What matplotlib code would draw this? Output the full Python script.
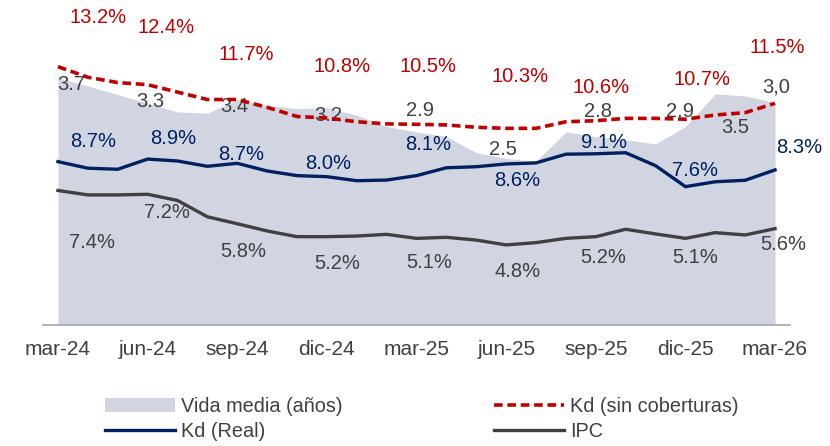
import matplotlib
matplotlib.use("Agg")
import matplotlib.pyplot as plt
from matplotlib.lines import Line2D
from matplotlib.patches import Patch
import numpy as np

months = ["mar-24", "abr-24", "may-24", "jun-24", "jul-24", "ago-24", "sep-24", "oct-24", "nov-24",
          "dic-24", "ene-25", "feb-25", "mar-25", "abr-25", "may-25", "jun-25", "jul-25", "ago-25",
          "sep-25", "oct-25", "nov-25", "dic-25", "ene-26", "feb-26", "mar-26"]
tick_labels = ["mar-24", "jun-24", "sep-24", "dic-24", "mar-25", "jun-25", "sep-25", "dic-25", "mar-26"]

vida_media = [3.71, 3.59, 3.46, 3.33, 3.20, 3.18, 3.38, 3.30, 3.25, 3.26, 3.15, 2.98, 2.90,
              2.83, 2.59, 2.50, 2.46, 2.90, 2.83, 2.78, 2.72, 2.98, 3.47, 3.44, 3.34]
kd_sin = [13.20, 12.70, 12.45, 12.35, 12.00, 11.65, 11.65, 11.28, 10.85, 10.78, 10.60, 10.50, 10.48,
          10.45, 10.34, 10.29, 10.29, 10.60, 10.65, 10.76, 10.76, 10.72, 10.92, 11.03, 11.47]
kd_real = [8.72, 8.41, 8.36, 8.84, 8.75, 8.50, 8.64, 8.28, 8.06, 8.01, 7.82, 7.85, 8.06,
           8.43, 8.48, 8.61, 8.66, 9.07, 9.09, 9.14, 8.53, 7.54, 7.77, 7.84, 8.33]
ipc = [7.36, 7.15, 7.15, 7.18, 6.89, 6.12, 5.79, 5.45, 5.18, 5.18, 5.21, 5.29, 5.10,
       5.15, 5.02, 4.79, 4.90, 5.10, 5.18, 5.53, 5.31, 5.10, 5.37, 5.26, 5.56]

# data labels: (index, text)
kd_sin_labels = [(0, "13.2%"), (3, "12.4%"), (6, "11.7%"), (9, "10.8%"), (12, "10.5%"),
                 (15, "10.3%"), (18, "10.6%"), (21, "10.7%"), (24, "11.5%")]
kd_real_labels = [(0, "8.7%"), (3, "8.9%"), (6, "8.7%"), (9, "8.0%"), (12, "8.1%"),
                  (15, "8.6%"), (18, "9.1%"), (21, "7.6%"), (24, "8.3%")]
ipc_labels = [(0, "7.4%"), (3, "7.2%"), (6, "5.8%"), (9, "5.2%"), (12, "5.1%"),
              (15, "4.8%"), (18, "5.2%"), (21, "5.1%"), (24, "5.6%")]
vida_labels = [(0, "3.7"), (3, "3.3"), (6, "3.4"), (9, "3.2"), (12, "2.9"),
               (15, "2.5"), (18, "2.8"), (21, "2.9"), (23, "3.5"), (24, "3,0")]

# label offsets in pixels (dx right, dy down)
kd_sin_off = [(40, -49), (18, -57), (9, -45), (15, -51), (11, -58), (14, -52), (5, -33), (17, -40), (2, -56)]
kd_real_off = [(35, -20), (26, -21), (4, -9), (1, -13), (12, -31), (11, 17), (8, -11), (10, -16), (24, -22)]
ipc_off = [(34, 52), (19, 18), (6, 28), (10, 27), (13, 24), (11, 27), (7, 21), (10, 19), (8, 16)]
vida_off = [(13, 7), (3, -2), (-3, 7), (1, 8), (3, -21), (-3, -9), (2, -25), (-5, -15), (-10, 32), (1, -16)]

C_RED = "#C00000"
C_NAVY = "#002060"
C_GRAY = "#404040"
C_AREA = "#D1D5E1"

LABEL_FONT = ["Liberation Sans", "DejaVu Sans"]
TICK_FONT = ["Liberation Sans", "DejaVu Sans"]

fig = plt.figure(figsize=(8.30, 4.46), dpi=100)
ax = fig.add_axes([43 / 830, 1 - 325 / 446, 747 / 830, 320 / 446])
x = np.arange(len(months))

ax.fill_between(x, 0, vida_media, color=C_AREA, linewidth=0, label="Vida media (años)")
ax.set_xlim(-0.5, len(months) - 0.5)
ax.set_ylim(0, 4.805)
ax.set_yticks([])
for s in ["top", "right", "left"]:
    ax.spines[s].set_visible(False)
ax.spines["bottom"].set_color("#A6A6A6")
ax.spines["bottom"].set_linewidth(1.2)
ax.set_xticks(x[::3])
ax.set_xticklabels(tick_labels, fontsize=15, color=C_GRAY, family=TICK_FONT)
ax.tick_params(axis="x", length=0, pad=11)

ax2 = ax.twinx()
ax2.set_ylim(1.014, 16.108)
ax2.set_yticks([])
for s in ["top", "right", "left", "bottom"]:
    ax2.spines[s].set_visible(False)

ax2.plot(x, kd_sin, color=C_RED, linewidth=2.6, dashes=(2.4, 1.3), label="Kd (sin coberturas)")
ax2.plot(x, kd_real, color=C_NAVY, linewidth=2.4, label="Kd (Real)")
ax2.plot(x, ipc, color=C_GRAY, linewidth=2.4, label="IPC")

def put_labels(axis, series, labels, offsets, color):
    for (i, txt), (dx, dy) in zip(labels, offsets):
        axis.annotate(txt, xy=(i, series[i]), xytext=(dx, -dy), textcoords="offset pixels",
                      ha="center", va="center", fontsize=14.5, color=color, family=LABEL_FONT,
                      annotation_clip=False)

put_labels(ax, vida_media, vida_labels, vida_off, C_GRAY)
put_labels(ax2, kd_sin, kd_sin_labels, kd_sin_off, C_RED)
put_labels(ax2, kd_real, kd_real_labels, kd_real_off, C_NAVY)
put_labels(ax2, ipc, ipc_labels, ipc_off, C_GRAY)

handles = [
    Patch(facecolor=C_AREA, edgecolor="none", label="Vida media (años)"),
    Line2D([], [], color=C_NAVY, linewidth=2.4, label="Kd (Real)"),
    Line2D([], [], color=C_RED, linewidth=2.6, dashes=(2.4, 1.3), label="Kd (sin coberturas)"),
    Line2D([], [], color=C_GRAY, linewidth=2.4, label="IPC"),
]
leg = fig.legend(handles=handles, loc="upper left", bbox_to_anchor=(105 / 830, 1 - 397 / 446),
                 ncol=2, frameon=False, borderpad=0, borderaxespad=0, handlelength=3.5,
                 handletextpad=0.35, columnspacing=7.6, labelspacing=0.3,
                 prop={"family": TICK_FONT, "size": 14.3})
for t in leg.get_texts():
    t.set_color(C_GRAY)

fig.savefig("out.png", dpi=100)
